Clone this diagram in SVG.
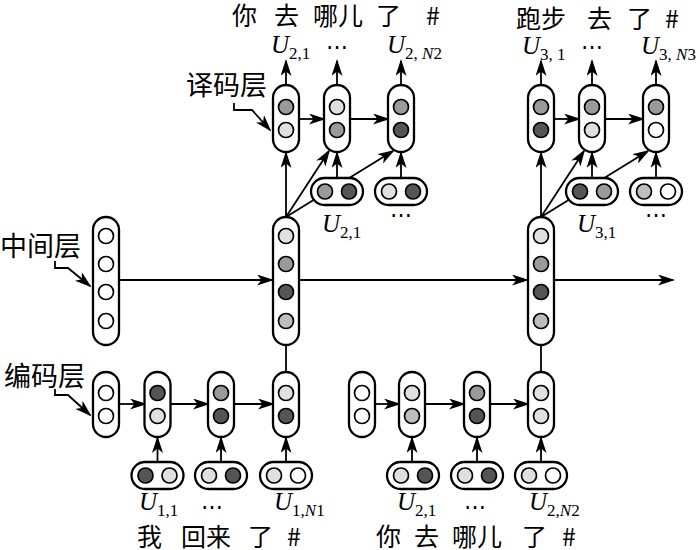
<svg xmlns="http://www.w3.org/2000/svg" width="700" height="550" viewBox="0 0 700 550">
<style>
.p{fill:#fff;stroke:#000;stroke-width:2.3}
.c{stroke:#000;stroke-width:1.7}
.w{fill:#fff}.l{fill:#e0e0e0}.ml{fill:#bdbdbd}.m{fill:#9a9a9a}.d{fill:#555}
.ln{fill:none;stroke:#000;stroke-width:1.8}
.a{marker-end:url(#ah)}
.cjk{font-family:"Noto Sans CJK SC",sans-serif;font-size:25px}
.side{font-family:"Noto Sans CJK SC",sans-serif;font-size:27px}
.u{font-family:"Liberation Serif",serif;font-style:italic;font-size:25px}
.s{font-style:normal;font-size:17px}
.i{font-style:italic}
.dots{font-family:"DejaVu Serif",serif;font-size:22px;text-anchor:middle}
</style>
<defs>
<marker id="ah" markerUnits="userSpaceOnUse" markerWidth="17" markerHeight="11" viewBox="0 0 17 11" refX="15" refY="5.5" orient="auto">
<path d="M0,0 L17,5.5 L0,11 L4.5,5.5 Z" fill="#000"/>
</marker>
</defs>
<rect width="700" height="550" fill="#fff"/>

<g id="connectors">
<path class="ln a" d="M55,261 V268 H68 L90,286"/>
<path class="ln a" d="M234,103 V110 H252 L270,130"/>
<path class="ln a" d="M55,389 V395 H68 L90,415"/>
<path class="ln a" d="M119,280 H272"/>
<path class="ln a" d="M299,280 H527"/>
<path class="ln a" d="M554,280 H673"/>
<path class="ln" d="M286,345 V372"/>
<path class="ln" d="M541,345 V372"/>
<path class="ln a" d="M286,217 V153"/>
<path class="ln a" d="M286,217 L329,151"/>
<path class="ln a" d="M286,217 L393,151"/>
<path class="ln a" d="M337,178 V153"/>
<path class="ln a" d="M401,178 V153"/>
<path class="ln a" d="M541,217 V153"/>
<path class="ln a" d="M541,217 L584,151"/>
<path class="ln a" d="M541,217 L648,151"/>
<path class="ln a" d="M592,178 V153"/>
<path class="ln a" d="M656,178 V153"/>
<path class="ln a" d="M286,85 V61"/>
<path class="ln a" d="M337,85 V61"/>
<path class="ln a" d="M401,85 V61"/>
<path class="ln a" d="M541,85 V61"/>
<path class="ln a" d="M592,85 V61"/>
<path class="ln a" d="M656,85 V61"/>
<path class="ln a" d="M299,119 H324"/>
<path class="ln a" d="M350,119 H388"/>
<path class="ln a" d="M554,119 H579"/>
<path class="ln a" d="M605,119 H643"/>
<path class="ln a" d="M119,404 H145"/>
<path class="ln a" d="M170,404 H208"/>
<path class="ln a" d="M234,404 H273"/>
<path class="ln a" d="M375,404 H399"/>
<path class="ln a" d="M425,404 H464"/>
<path class="ln a" d="M490,404 H528"/>
<path class="ln a" d="M157.5,462 V438"/>
<path class="ln a" d="M221,462 V438"/>
<path class="ln a" d="M286,462 V438"/>
<path class="ln a" d="M412,462 V438"/>
<path class="ln a" d="M477,462 V438"/>
<path class="ln a" d="M541,462 V438"/>
</g>

<g id="mid0"><rect class="p" x="93" y="217" width="26" height="128" rx="13"/>
<circle class="c w" cx="106" cy="236" r="7.5"/><circle class="c w" cx="106" cy="264" r="7.5"/><circle class="c w" cx="106" cy="292" r="7.5"/><circle class="c w" cx="106" cy="321" r="7.5"/></g>
<g id="mid1"><rect class="p" x="273" y="217" width="26" height="128" rx="13"/>
<circle class="c l" cx="286" cy="236" r="7.5"/><circle class="c m" cx="286" cy="264" r="7.5"/><circle class="c d" cx="286" cy="292" r="7.5"/><circle class="c ml" cx="286" cy="321" r="7.5"/></g>
<g id="mid2"><rect class="p" x="528" y="217" width="26" height="128" rx="13"/>
<circle class="c l" cx="541" cy="236" r="7.5"/><circle class="c m" cx="541" cy="264" r="7.5"/><circle class="c d" cx="541" cy="292" r="7.5"/><circle class="c ml" cx="541" cy="321" r="7.5"/></g>

<g id="dec1a"><rect class="p" x="273" y="85" width="26" height="67" rx="13"/><circle class="c m" cx="286" cy="107" r="7.5"/><circle class="c l" cx="286" cy="130" r="7.5"/></g>
<g id="dec1b"><rect class="p" x="324" y="85" width="26" height="67" rx="13"/><circle class="c l" cx="337" cy="107" r="7.5"/><circle class="c m" cx="337" cy="130" r="7.5"/></g>
<g id="dec1c"><rect class="p" x="388" y="85" width="26" height="67" rx="13"/><circle class="c m" cx="401" cy="107" r="7.5"/><circle class="c d" cx="401" cy="130" r="7.5"/></g>
<g id="emb1a"><rect class="p" x="311" y="178" width="52" height="27" rx="13.5"/><circle class="c m" cx="325" cy="191.5" r="7.5"/><circle class="c d" cx="349" cy="191.5" r="7.5"/></g>
<g id="emb1b"><rect class="p" x="375" y="178" width="52" height="27" rx="13.5"/><circle class="c l" cx="389" cy="191.5" r="7.5"/><circle class="c d" cx="413" cy="191.5" r="7.5"/></g>

<g id="dec2a"><rect class="p" x="528" y="85" width="26" height="67" rx="13"/><circle class="c m" cx="541" cy="107" r="7.5"/><circle class="c d" cx="541" cy="130" r="7.5"/></g>
<g id="dec2b"><rect class="p" x="579" y="85" width="26" height="67" rx="13"/><circle class="c m" cx="592" cy="107" r="7.5"/><circle class="c l" cx="592" cy="130" r="7.5"/></g>
<g id="dec2c"><rect class="p" x="643" y="85" width="26" height="67" rx="13"/><circle class="c m" cx="656" cy="107" r="7.5"/><circle class="c w" cx="656" cy="130" r="7.5"/></g>
<g id="emb2a"><rect class="p" x="566" y="178" width="52" height="27" rx="13.5"/><circle class="c d" cx="580" cy="191.5" r="7.5"/><circle class="c m" cx="604" cy="191.5" r="7.5"/></g>
<g id="emb2b"><rect class="p" x="630" y="178" width="52" height="27" rx="13.5"/><circle class="c ml" cx="644" cy="191.5" r="7.5"/><circle class="c w" cx="668" cy="191.5" r="7.5"/></g>

<g id="enc1a"><rect class="p" x="93" y="372" width="26" height="65" rx="13"/><circle class="c w" cx="106" cy="393" r="7.5"/><circle class="c w" cx="106" cy="416" r="7.5"/></g>
<g id="enc1b"><rect class="p" x="144.5" y="372" width="26" height="65" rx="13"/><circle class="c d" cx="157.5" cy="393" r="7.5"/><circle class="c l" cx="157.5" cy="416" r="7.5"/></g>
<g id="enc1c"><rect class="p" x="208" y="372" width="26" height="65" rx="13"/><circle class="c m" cx="221" cy="393" r="7.5"/><circle class="c d" cx="221" cy="416" r="7.5"/></g>
<g id="enc1d"><rect class="p" x="273" y="372" width="26" height="65" rx="13"/><circle class="c l" cx="286" cy="393" r="7.5"/><circle class="c d" cx="286" cy="416" r="7.5"/></g>
<g id="in1a"><rect class="p" x="131.5" y="462" width="52" height="27" rx="13.5"/><circle class="c d" cx="145.5" cy="475.5" r="7.5"/><circle class="c l" cx="169.5" cy="475.5" r="7.5"/></g>
<g id="in1b"><rect class="p" x="195" y="462" width="52" height="27" rx="13.5"/><circle class="c l" cx="209" cy="475.5" r="7.5"/><circle class="c d" cx="233" cy="475.5" r="7.5"/></g>
<g id="in1c"><rect class="p" x="260" y="462" width="52" height="27" rx="13.5"/><circle class="c l" cx="274" cy="475.5" r="7.5"/><circle class="c w" cx="298" cy="475.5" r="7.5"/></g>

<g id="enc2a"><rect class="p" x="349" y="372" width="26" height="65" rx="13"/><circle class="c w" cx="362" cy="393" r="7.5"/><circle class="c w" cx="362" cy="416" r="7.5"/></g>
<g id="enc2b"><rect class="p" x="399" y="372" width="26" height="65" rx="13"/><circle class="c l" cx="412" cy="393" r="7.5"/><circle class="c ml" cx="412" cy="416" r="7.5"/></g>
<g id="enc2c"><rect class="p" x="464" y="372" width="26" height="65" rx="13"/><circle class="c m" cx="477" cy="393" r="7.5"/><circle class="c d" cx="477" cy="416" r="7.5"/></g>
<g id="enc2d"><rect class="p" x="528" y="372" width="26" height="65" rx="13"/><circle class="c l" cx="541" cy="393" r="7.5"/><circle class="c l" cx="541" cy="416" r="7.5"/></g>
<g id="in2a"><rect class="p" x="387" y="462" width="52" height="27" rx="13.5"/><circle class="c l" cx="401" cy="475.5" r="7.5"/><circle class="c d" cx="425" cy="475.5" r="7.5"/></g>
<g id="in2b"><rect class="p" x="451" y="462" width="52" height="27" rx="13.5"/><circle class="c l" cx="465" cy="475.5" r="7.5"/><circle class="c d" cx="489" cy="475.5" r="7.5"/></g>
<g id="in2c"><rect class="p" x="515" y="462" width="52" height="27" rx="13.5"/><circle class="c l" cx="529" cy="475.5" r="7.5"/><circle class="c w" cx="553" cy="475.5" r="7.5"/></g>

<g id="labels">
<text class="side" x="0" y="256">中间层</text>
<text class="side" x="186" y="95">译码层</text>
<text class="side" x="4" y="386">编码层</text>

<text class="cjk" y="25"><tspan x="232">你</tspan><tspan x="274">去</tspan><tspan x="313">哪儿</tspan><tspan x="376">了</tspan><tspan x="426">#</tspan></text>
<text class="cjk" y="28"><tspan x="516">跑步</tspan><tspan x="587">去</tspan><tspan x="627">了</tspan><tspan x="665">#</tspan></text>
<text class="cjk" y="546"><tspan x="137">我</tspan><tspan x="181">回来</tspan><tspan x="248">了</tspan><tspan x="287">#</tspan></text>
<text class="cjk" y="546"><tspan x="376">你</tspan><tspan x="414">去</tspan><tspan x="452">哪儿</tspan><tspan x="522">了</tspan><tspan x="562">#</tspan></text>

<text class="u" x="271" y="53">U<tspan class="s" dy="6">2,1</tspan></text>
<text class="u" x="387" y="53">U<tspan class="s" dy="6">2, <tspan class="i">N</tspan>2</tspan></text>
<text class="u" x="522" y="54">U<tspan class="s" dy="6">3, 1</tspan></text>
<text class="u" x="641" y="54">U<tspan class="s" dy="6">3, <tspan class="i">N</tspan>3</tspan></text>
<text class="u" x="322" y="232">U<tspan class="s" dy="6">2,1</tspan></text>
<text class="u" x="577" y="232">U<tspan class="s" dy="6">3,1</tspan></text>
<text class="u" x="139" y="510">U<tspan class="s" dy="6">1,1</tspan></text>
<text class="u" x="274" y="510">U<tspan class="s" dy="6">1,<tspan class="i">N</tspan>1</tspan></text>
<text class="u" x="397" y="510">U<tspan class="s" dy="6">2,1</tspan></text>
<text class="u" x="529" y="510">U<tspan class="s" dy="6">2,<tspan class="i">N</tspan>2</tspan></text>

<text class="dots" x="337" y="54">⋯</text>
<text class="dots" x="592" y="54">⋯</text>
<text class="dots" x="401" y="222">⋯</text>
<text class="dots" x="656" y="222">⋯</text>
<text class="dots" x="212" y="514">⋯</text>
<text class="dots" x="475" y="514">⋯</text>
</g>
</svg>
